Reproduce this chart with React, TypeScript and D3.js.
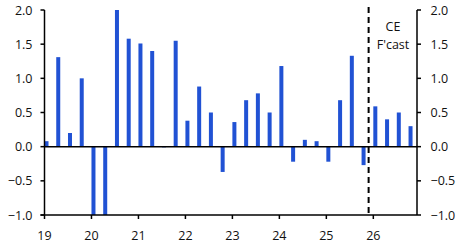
import React from "react";
import * as d3 from "d3";

const quarters: string[] = [
  "2019Q1","2019Q2","2019Q3","2019Q4",
  "2020Q1","2020Q2","2020Q3","2020Q4",
  "2021Q1","2021Q2","2021Q3","2021Q4",
  "2022Q1","2022Q2","2022Q3","2022Q4",
  "2023Q1","2023Q2","2023Q3","2023Q4",
  "2024Q1","2024Q2","2024Q3","2024Q4",
  "2025Q1","2025Q2","2025Q3","2025Q4",
  "2026Q1","2026Q2","2026Q3","2026Q4",
];
const values: number[] = [
  0.08, 1.31, 0.2, 1.0,
  -1.0, -1.0, 2.0, 1.58,
  1.51, 1.4, -0.01, 1.55,
  0.38, 0.88, 0.5, -0.37,
  0.36, 0.68, 0.78, 0.5,
  1.18, -0.22, 0.1, 0.08,
  -0.22, 0.68, 1.33, -0.27,
  0.59, 0.4, 0.5, 0.3,
];
const yTicks: number[] = [-1.0, -0.5, 0.0, 0.5, 1.0, 1.5, 2.0];
const xTicks: number[] = [2019, 2020, 2021, 2022, 2023, 2024, 2025, 2026];
const forecastStart = 2025.9;
const forecastLabel: string[] = ["CE", "F'cast"];

const W = 458, H = 248;
const left = 44.5, right = 417, top = 10, bottom = 215;
const font = "'Open Sans', sans-serif";
const barColor = "#2152D4";

function qToYear(q: string): number {
  const y = +q.slice(0, 4);
  const n = +q.slice(5);
  return y + (n - 1) * 0.25;
}

export default function App() {
  const x = d3.scaleLinear().domain([2019, 2026.93]).range([left, right]);
  const y = d3.scaleLinear().domain([-1, 2]).range([bottom, top]);
  const fmt = d3.format(".1f");
  const barW = 4;

  return (
    <svg width={W} height={H} style={{ position: "absolute", left: 0, top: 0 }}>
      <defs>
        <clipPath id="plot">
          <rect x={left} y={top} width={right - left} height={bottom - top} />
        </clipPath>
      </defs>
      <g clipPath="url(#plot)">
        {quarters.map((q, i) => {
          const v = values[i];
          const y0 = y(0), y1 = y(v);
          return (
            <rect
              key={q}
              x={x(qToYear(q))}
              y={Math.min(y0, y1)}
              width={barW}
              height={Math.max(0.5, Math.abs(y1 - y0))}
              fill={barColor}
            />
          );
        })}
      </g>
      <line x1={left} x2={right} y1={y(0)} y2={y(0)} stroke="#000" strokeWidth={1.5} />
      <line x1={left - 4} x2={right} y1={bottom} y2={bottom} stroke="#000" strokeWidth={1.5} />
      {xTicks.map((t) => (
        <g key={t}>
          <line x1={x(t)} x2={x(t)} y1={bottom} y2={bottom + 4} stroke="#000" strokeWidth={1.5} />
          <text x={x(t)} y={240} textAnchor="middle" fontFamily={font} fontSize={12.5} fill="#111">
            {String(t).slice(2)}
          </text>
        </g>
      ))}
      <line x1={left} x2={left} y1={top} y2={bottom} stroke="#000" strokeWidth={1.5} />
      {yTicks.map((t) => (
        <g key={"l" + t}>
          <line x1={left - 4} x2={left} y1={y(t)} y2={y(t)} stroke="#000" strokeWidth={1.5} />
          <text x={32.5} y={y(t) + 4.5} textAnchor="end" fontFamily={font} fontSize={12.5} fill="#111">
            {fmt(t)}
          </text>
        </g>
      ))}
      <line x1={right} x2={right} y1={top} y2={bottom} stroke="#000" strokeWidth={1.5} />
      {yTicks.map((t) => (
        <g key={"r" + t}>
          <line x1={right} x2={right + 4} y1={y(t)} y2={y(t)} stroke="#000" strokeWidth={1.5} />
          <text x={430.5} y={y(t) + 4.5} textAnchor="start" fontFamily={font} fontSize={12.5} fill="#111">
            {fmt(t)}
          </text>
        </g>
      ))}
      <line
        x1={x(forecastStart)}
        x2={x(forecastStart)}
        y1={7}
        y2={bottom}
        stroke="#000"
        strokeWidth={2}
        strokeDasharray="6,4"
      />
      {forecastLabel.map((s, i) => (
        <text key={s} x={393} y={31 + i * 18} textAnchor="middle" fontFamily={font} fontSize={12.5} fill="#111">
          {s}
        </text>
      ))}
    </svg>
  );
}
